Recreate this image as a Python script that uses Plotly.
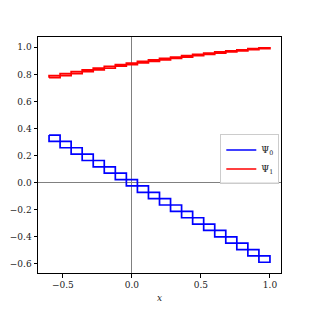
import plotly.graph_objects as go

# bin edges (x) and the value of each curve at each edge
x_edges = [-0.6, -0.52, -0.44, -0.36, -0.28, -0.2, -0.12, -0.04, 0.04, 0.12, 0.2,
           0.28, 0.36, 0.44, 0.52, 0.6, 0.68, 0.76, 0.84, 0.92, 1.0]
psi0 = [0.352, 0.305, 0.258, 0.211, 0.164, 0.117, 0.070, 0.023, -0.024, -0.071, -0.118,
        -0.165, -0.212, -0.259, -0.306, -0.353, -0.400, -0.447, -0.494, -0.541, -0.588]
psi1 = [0.776, 0.791, 0.806, 0.820, 0.834, 0.847, 0.860, 0.872, 0.884, 0.896, 0.907,
        0.918, 0.928, 0.938, 0.948, 0.957, 0.966, 0.974, 0.982, 0.990, 0.997]
names = ["Ψ<sub>0</sub>", "Ψ<sub>1</sub>"]
colors = ["#0000ff", "#ff0000"]


def boxes(xe, ye):
    xs, ys = [], []
    for i in range(len(xe) - 1):
        a, b = xe[i], xe[i + 1]
        ya, yb = ye[i], ye[i + 1]
        xs += [a, b, b, a, a, None]
        ys += [ya, ya, yb, yb, ya, None]
    return xs, ys


fig = go.Figure()
for ys, name, col in zip([psi0, psi1], names, colors):
    bx, by = boxes(x_edges, ys)
    fig.add_trace(go.Scatter(x=bx, y=by, mode="lines", name=name,
                             line=dict(color=col, width=1.7)))

xmin, xmax = min(x_edges), max(x_edges)
ymin, ymax = min(psi0 + psi1), max(psi0 + psi1)
mx, my = 0.05 * (xmax - xmin), 0.05 * (ymax - ymin)

font = dict(family="DejaVu Serif", size=9, color="#222222")
axis_common = dict(showline=True, mirror=True, linecolor="black", linewidth=1,
                   ticks="outside", ticklen=3.5, tickwidth=1, tickcolor="black",
                   showgrid=False, zeroline=True, zerolinecolor="#808080",
                   zerolinewidth=1, tickfont=font, automargin=False)

fig.update_layout(
    width=313, height=313,
    margin=dict(l=30, r=40, t=29, b=48),
    paper_bgcolor="white", plot_bgcolor="white",
    font=font,
    xaxis=dict(range=[xmin - mx, xmax + mx], tickvals=[-0.5, 0.0, 0.5, 1.0],
               ticktext=["−0.5", "0.0", "0.5", "1.0"],
               title=dict(text="<i>x</i>", font=font, standoff=5), **axis_common),
    yaxis=dict(range=[ymin - my, ymax + my],
               tickvals=[-0.6, -0.4, -0.2, 0.0, 0.2, 0.4, 0.6, 0.8, 1.0],
               ticktext=["−0.6", "−0.4", "−0.2", "0.0", "0.2", "0.4", "0.6", "0.8", "1.0"],
               **axis_common),
    legend=dict(x=0.993, y=0.481, xanchor="right", yanchor="middle",
                bgcolor="rgba(255,255,255,0.8)", bordercolor="#cccccc", borderwidth=1,
                font=dict(family="DejaVu Serif", size=9, color="#222222"), itemwidth=30,
                tracegroupgap=0),
    showlegend=True,
)

fig.write_html("out.html")
